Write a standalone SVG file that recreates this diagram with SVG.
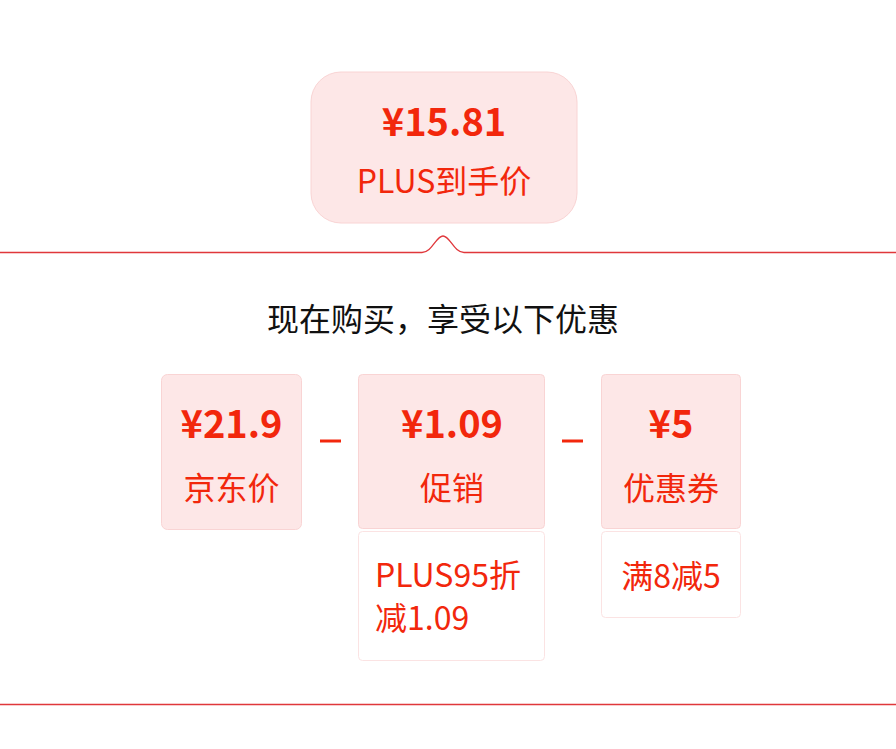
<svg xmlns="http://www.w3.org/2000/svg" width="896" height="749" viewBox="0 0 896 749">
<style>
.t{font-family:"Noto Sans CJK SC","Noto Sans",sans-serif;fill:#f2270c}
.p{font-weight:bold;font-size:38px;text-anchor:middle}
.l{font-size:32px;text-anchor:middle}
.s{font-size:32px}
.card{fill:#fde7e7;stroke:#f9d4d4;stroke-width:1}
.sub{fill:#fff;stroke:#fbe3e3;stroke-width:1}
.line{fill:none;stroke:#e0373b;stroke-width:1.3}
</style>
<rect width="896" height="749" fill="#fff"/>
<g id="connectors">
<path class="line" d="M0 252.5 H422 C432 252.5 436 236 443 236 C450 236 454 252.5 464 252.5 H896"/>
<line class="line" x1="0" y1="704.5" x2="896" y2="704.5"/>
<line x1="320" y1="441" x2="341" y2="441" stroke="#f2270c" stroke-width="3"/>
<line x1="562" y1="441" x2="583" y2="441" stroke="#f2270c" stroke-width="3"/>
</g>
<g id="plus-price">
<rect class="card" x="311" y="72" width="266" height="151" rx="30"/>
<text class="t p" x="444" y="136" font-size="40">¥15.81</text>
<text class="t l" x="444" y="193">PLUS到手价</text>
</g>
<g id="heading">
<text x="443" y="331" font-family="'Noto Sans CJK SC','Noto Sans',sans-serif" font-size="32" text-anchor="middle" fill="#111">现在购买，享受以下优惠</text>
</g>
<g id="jd-price">
<rect class="card" x="161.5" y="374.5" width="140" height="155" rx="6"/>
<text class="t p" x="231.5" y="438">¥21.9</text>
<text class="t l" x="231.5" y="500">京东价</text>
</g>
<g id="promo">
<rect class="card" x="358.5" y="374.5" width="186" height="154" rx="4"/>
<text class="t p" x="452" y="438">¥1.09</text>
<text class="t l" x="452" y="500">促销</text>
</g>
<g id="promo-detail">
<rect class="sub" x="358.5" y="531.5" width="186" height="129" rx="4"/>
<text class="t s" x="375" y="587">PLUS95折</text>
<text class="t s" x="375" y="630">减1.09</text>
</g>
<g id="coupon">
<rect class="card" x="601.5" y="374.5" width="139" height="154" rx="4"/>
<text class="t p" x="671" y="438">¥5</text>
<text class="t l" x="671" y="500">优惠券</text>
</g>
<g id="coupon-detail">
<rect class="sub" x="601.5" y="531.5" width="139" height="86" rx="4"/>
<text class="t l" x="671" y="588">满8减5</text>
</g>
</svg>
